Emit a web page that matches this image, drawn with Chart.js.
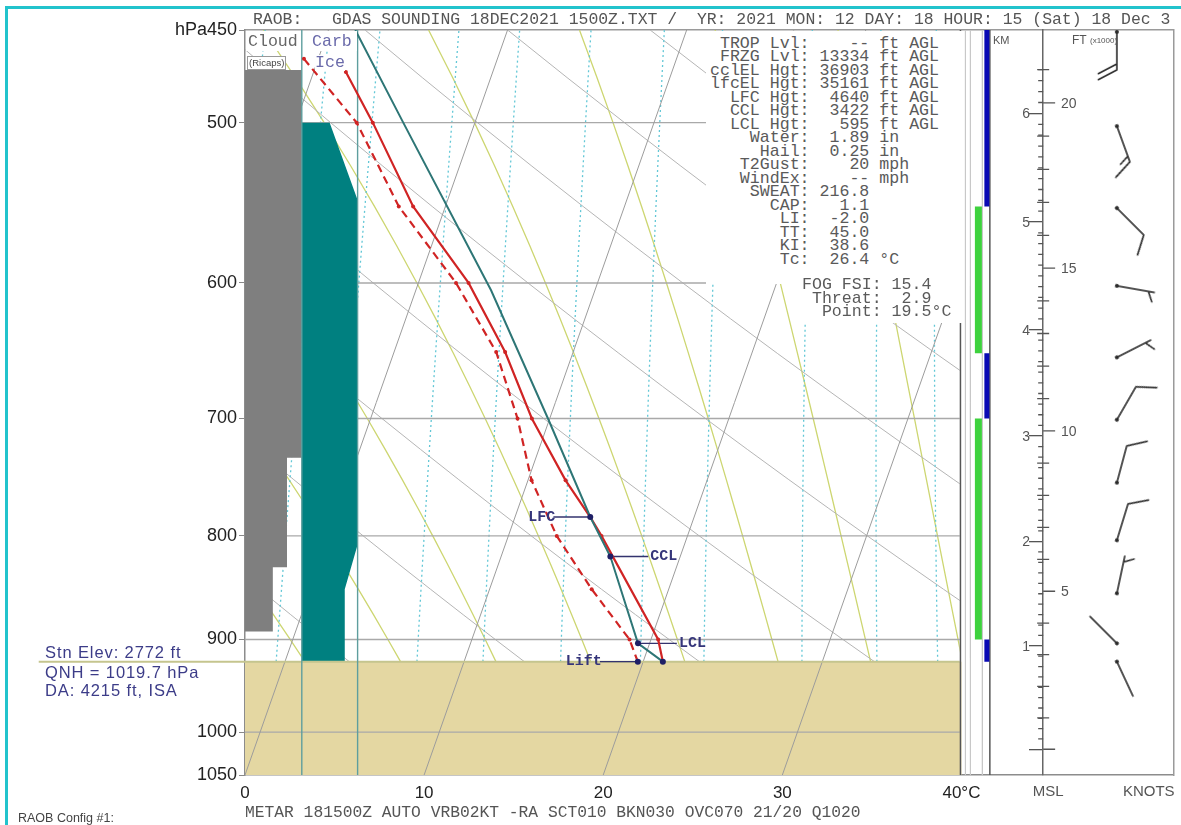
<!DOCTYPE html>
<html><head><meta charset="utf-8">
<script src="https://cdn.jsdelivr.net/npm/chart.js@4.4.1/dist/chart.umd.min.js"></script>
<style>
 body{margin:0;background:#fff;}
 #wrap{position:relative;width:1181px;height:825px;overflow:hidden;background:#fff;}
 #c{position:absolute;left:0;top:0;}
 .t{position:absolute;white-space:pre;margin:0;}
 .mono{font-family:"Liberation Mono","Courier New",monospace;}
 .sans{font-family:"Liberation Sans",Arial,sans-serif;}
</style></head>
<body><div id="wrap"><canvas id="c" width="1181" height="825"></canvas></div>
<script>
// ================= DATA =================
// Axis ticks
const pressureTicks = [450, 500, 600, 700, 800, 900, 1000, 1050];
const tempTicks = [0, 10, 20, 30, 40];
// Thermodynamic reference lines
const isobars = [500, 600, 700, 800, 900, 1000];
const isotherms = [-40, -30, -20, -10, 0, 10, 20, 30, 40];          // °C
const mixingRatios = [3, 4, 5, 7, 9, 12, 16, 20, 28, 36, 44];         // g/kg
const moistAdiabats = [-10, -5, 0, 5, 10, 15, 20, 25, 30, 35, 40];    // theta-w °C
const dryAdiabats = [10, 20, 30, 40, 50, 60, 70, 80, 90, 100];        // theta °C
const stationPressure = 923;
// Sounding (pressure hPa, °C)
const tempPressure = [472, 500, 550, 600, 649, 700, 751, 783, 800, 900, 923];
const temperature  = [-8.2, -5.7, -1.8, 2.8, 6.2, 9.0, 12.1, 14.2, 15.2, 20.4, 21.1];
const dewPressure  = [465, 500, 550, 600, 649, 700, 751, 800, 850, 900, 923];
const dewpoint     = [-10.8, -6.6, -2.6, 2.1, 5.7, 8.2, 10.2, 12.7, 15.7, 18.8, 19.7];
const parcelPressure = [923, 904, 819, 783, 700, 605, 500, 450];
const parcelTemp     = [21.1, 19.35, 16.1, 14.2, 9.9, 4.2, -4.0, -8.5];
// Parcel levels
const levelNames = ['LFC', 'CCL', 'LCL', 'Lift'];
const levelPressure = [783, 819, 904, 923];
const levelTemp = [14.2, 16.1, 19.35, 19.7];
// Cloud (Ricaps) coverage: boundaries and fraction of column
const cloudPressure = [471, 732, 829, 892];
const cloudCover = [1.0, 0.74, 0.49];
// Carb ice intensity (fraction of column) by pressure
const carbIcePressure = [500, 546, 808, 850, 923];
const carbIceLevel = [0.5, 1.0, 1.0, 0.77, 0.77];
// Side bars
const blueBars = [[450, 550], [650, 700], [900, 923]];
const greenBars = [[550, 650], [700, 900]];
// Winds
const windPressure = [451, 502, 551, 602, 653, 701, 753, 804, 854, 904, 923];
const windDir   = [180, 160, 135, 100, 63, 30, 15, 17, 12, 315, 155];
const windSpeed = [20, 15, 10, 5, 5, 10, 10, 10, 5, 2, 2];
// Height scale
const kmTicks = [0, 1, 2, 3, 4, 5, 6];
const ftMajor = [0, 5, 10, 15, 20];   // x1000 ft
const QNH = 1019.7;
// Texts
const headerText = 'RAOB:   GDAS SOUNDING 18DEC2021 1500Z.TXT /  YR: 2021 MON: 12 DAY: 18 HOUR: 15 (Sat) 18 Dec 3';
const statsLines = [
 ' TROP Lvl:    -- ft AGL',
 ' FRZG Lvl: 13334 ft AGL',
 'cclEL Hgt: 36903 ft AGL',
 'lfcEL Hgt: 35161 ft AGL',
 '  LFC Hgt:  4640 ft AGL',
 '  CCL Hgt:  3422 ft AGL',
 '  LCL Hgt:   595 ft AGL',
 '    Water:  1.89 in',
 '     Hail:  0.25 in',
 '   T2Gust:    20 mph',
 '   WindEx:    -- mph',
 '    SWEAT: 216.8',
 '      CAP:   1.1',
 '       LI:  -2.0',
 '       TT:  45.0',
 '       KI:  38.6',
 '       Tc:  26.4 °C'];
const fogLines = ['FOG FSI: 15.4', ' Threat:  2.9', '  Point: 19.5°C'];
const metarText = 'METAR 181500Z AUTO VRB02KT -RA SCT010 BKN030 OVC070 21/20 Q1020';
const stnLines = ['Stn Elev: 2772 ft', 'QNH = 1019.7 hPa', 'DA: 4215 ft, ISA'];

// ================= LAYOUT =================
const W = 1181, H = 825;
const PLOT_L = 245, PLOT_T = 30, PLOT_B = 775, PLOT_R = 1177;
const PXU = 17.975;                       // px per x unit
const X_MAX = (PLOT_R - PLOT_L) / PXU;
const SKEW = 17.3;                        // x-units per ln(p)
const sx = (t, p) => t + SKEW * Math.log(1050 / p);
const ux = px => (px - PLOT_L) / PXU;     // layout px -> x units
const X_H = ux(1046);                     // height axis
const X_BARB = ux(1120);
const CLOUD_W = ux(302);
const CARB_L = ux(302), CARB_W = ux(358) - ux(302);
const SANS = '"Liberation Sans", Arial, sans-serif';
const MONO = '"Liberation Mono", "Courier New", monospace';
Chart.defaults.font.family = SANS;

const skewClip = {left: 0, top: 0, right: -(PLOT_R - (PLOT_L + 40 * PXU)) - 1, bottom: 0};
const refLevels = [stationPressure];
for (let p = 900; p >= 450; p -= 25) refLevels.push(p);

const es = t => 6.112 * Math.exp(17.67 * t / (t + 243.5));
const tdFromE = e => { const a = Math.log(e / 6.112); return 243.5 * a / (17.67 - a); };

function lineDs(data, color, width, extra) {
  return Object.assign({data, borderColor: color, borderWidth: width, pointRadius: 0, fill: false, tension: 0}, extra || {});
}
const datasets = [];

// ground
datasets.push(lineDs([{x:0,y:stationPressure},{x:40,y:stationPressure},{x:40,y:1050},{x:0,y:1050}],
  'rgba(0,0,0,0)', 0, {fill: 'shape', backgroundColor: '#e4d7a2', order: 100}));
// isobars
isobars.forEach(p => datasets.push(lineDs([{x:0,y:p},{x:40,y:p}], '#a9a9a9', 1.4, {order: 88, clip: skewClip})));
// isotherms
isotherms.forEach(t => datasets.push(lineDs([{x:sx(t,1050),y:1050},{x:sx(t,450),y:450}], '#9c9c9c', 1, {order: 87, clip: skewClip})));
// mixing ratio lines
mixingRatios.forEach(w => {
  const pts = refLevels.map(p => { const e = w * p / (622 + w); return {x: sx(tdFromE(e), p), y: p}; });
  datasets.push(lineDs(pts, '#62c7d6', 1.3, {borderDash: [2, 3], order: 89, clip: skewClip}));
});
// dry adiabats
dryAdiabats.forEach(th => {
  const pts = refLevels.map(p => ({x: sx((th + 273.15) * Math.pow(p / 1000, 0.2857) - 273.15, p), y: p}));
  datasets.push(lineDs(pts, '#b5b5b5', 1, {order: 89, clip: skewClip}));
});
// moist adiabats (pseudo-adiabatic integration)
const keep = new Set(refLevels);
moistAdiabats.forEach(tw => {
  const Rd = 287.04, cp = 1005.7, Lv = 2.501e6, eps = 0.622;
  let T = tw + 273.15, p = 1000; const pts = [];
  while (p > 450) {
    const e = es(T - 273.15), r = eps * e / (p - e);
    const dTdp = (Rd * T + Lv * r) / (p * (cp + Lv * Lv * r * eps / (Rd * T * T)));
    T -= dTdp; p -= 1;
    if (keep.has(p)) pts.push({x: sx(T - 273.15, p), y: p});
  }
  datasets.push(lineDs(pts, '#cdd671', 1.3, {order: 89, clip: skewClip}));
});
// cloud column
(function(){
  const pts = [{x:0, y:cloudPressure[0]}];
  cloudCover.forEach((c, i) => { pts.push({x:c*CLOUD_W, y:cloudPressure[i]}); pts.push({x:c*CLOUD_W, y:cloudPressure[i+1]}); });
  pts.push({x:0, y:cloudPressure[cloudPressure.length-1]});
  datasets.push(lineDs(pts, 'rgba(0,0,0,0)', 0, {fill: 'shape', backgroundColor: '#7f7f7f', order: 80}));
})();
// carb ice column
(function(){
  const pts = [{x:CARB_L, y:carbIcePressure[0]}];
  carbIcePressure.forEach((p, i) => pts.push({x: CARB_L + carbIceLevel[i] * CARB_W, y: p}));
  pts.push({x:CARB_L, y:carbIcePressure[carbIcePressure.length-1]});
  datasets.push(lineDs(pts, 'rgba(0,0,0,0)', 0, {fill: 'shape', backgroundColor: '#008080', order: 80}));
})();
// column borders
[CARB_L, CARB_L + CARB_W].forEach(xv => datasets.push(lineDs([{x:xv,y:450},{x:xv,y:1050}], '#5e9e9e', 1.4, {order: 70})));
// station elevation line
datasets.push(lineDs([{x:ux(38),y:stationPressure},{x:40,y:stationPressure}], '#c5c58e', 2,
  {order: 70, clip: {left: 230, top: 0, right: skewClip.right, bottom: 0}}));
// side strip lines
[[ux(963),'#555',1.5],[ux(968),'#c8c8c8',1],[ux(973),'#c8c8c8',1],[ux(985),'#c8c8c8',1],[ux(992.5),'#555',1.5]]
  .forEach(s => datasets.push(lineDs([{x:s[0],y:450},{x:s[0],y:1050}], s[1], s[2], {order: 65})));
blueBars.forEach(b => datasets.push(lineDs([{x:ux(989.5),y:b[0]},{x:ux(989.5),y:b[1]}], '#0a0ab4', 5, {order: 60, borderCapStyle: 'butt'})));
greenBars.forEach(b => datasets.push(lineDs([{x:ux(981),y:b[0]},{x:ux(981),y:b[1]}], '#3ed23e', 7, {order: 60, borderCapStyle: 'butt'})));
// height scale helper (hypsometric with mean temperature)
const pAtKm = z => QNH * Math.exp(-9.81 * z * 1000 / (287 * (292 - 1.4 * z)));
const kmMinor = [], ftMinor = [], ftMaj = [];
for (let i = 1; i <= 64; i++) if (i % 10) kmMinor.push({x: X_H - 2.5 / PXU, y: pAtKm(i / 10)});
for (let f = 1; f <= 21; f++) if (f % 5) ftMinor.push({x: X_H, y: pAtKm(f * 0.3048)});
ftMajor.forEach(f => ftMaj.push({x: X_H + 6 / PXU, y: pAtKm(f * 0.3048)}));
const tickDs = (pts, r) => ({data: pts, showLine: false, pointStyle: 'line', pointRadius: r, pointBorderColor: '#555',
  pointBorderWidth: 1.3, borderColor: '#555', order: 60});
datasets.push(tickDs(kmMinor, 2.5), tickDs(ftMinor, 6), tickDs(ftMaj, 6));
// wind barbs
function makeBarb(speed) {
  const L = 38, F = 21, HF = 11, S = 6, size = 2 * (L + F) + 6;
  const c = document.createElement('canvas'); c.width = c.height = size;
  const g = c.getContext('2d'), cx = size / 2, cy = size / 2;
  g.strokeStyle = '#2a2a2a'; g.lineWidth = 1.6; g.lineCap = 'round';
  g.beginPath(); g.moveTo(cx, cy); g.lineTo(cx, cy - L);
  const n10 = Math.floor(speed / 10), n5 = Math.floor((speed % 10) / 5);
  let pos = 0;
  for (let i = 0; i < n10; i++) { const y = cy - L + pos; g.moveTo(cx, y); g.lineTo(cx + F * 0.885, y - F * 0.466); pos += S; }
  if (n5) { if (!n10) pos = S; const y = cy - L + pos; g.moveTo(cx, y); g.lineTo(cx + HF * 0.885, y - HF * 0.466); }
  g.stroke();
  g.fillStyle = '#2a2a2a'; g.beginPath(); g.arc(cx, cy, 2, 0, Math.PI * 2); g.fill();
  return c;
}
const barbImgs = windSpeed.map(makeBarb);
datasets.push({data: windPressure.map(p => ({x: X_BARB, y: p})), showLine: false, pointRadius: 4,
  pointStyle: c => barbImgs[c.dataIndex], pointRotation: c => windDir[c.dataIndex], order: 60});
// label connectors
const LABEL_OFF = [-37, 38, 39, -38];
levelNames.forEach((n, i) => {
  const x0 = sx(levelTemp[i], levelPressure[i]);
  datasets.push(lineDs([{x:x0,y:levelPressure[i]},{x:x0 + LABEL_OFF[i] / PXU,y:levelPressure[i]}], '#33336e', 1.4, {order: 50}));
});
// profiles
datasets.push(lineDs(dewPressure.map((p, i) => ({x: sx(dewpoint[i], p), y: p})), '#d02424', 2.2,
  {borderDash: [8, 5], pointRadius: 2, pointBackgroundColor: '#d02424', pointBorderWidth: 0, order: 40}));
datasets.push(lineDs(tempPressure.map((p, i) => ({x: sx(temperature[i], p), y: p})), '#d02424', 2.2,
  {pointRadius: 2, pointBackgroundColor: '#d02424', pointBorderWidth: 0, order: 39}));
datasets.push(lineDs(parcelPressure.map((p, i) => ({x: sx(parcelTemp[i], p), y: p})), '#2e7676', 2, {order: 38}));
// level dots
datasets.push({data: levelPressure.map((p, i) => ({x: sx(levelTemp[i], p), y: p}))
  .concat([{x: sx(parcelTemp[0], parcelPressure[0]), y: parcelPressure[0]}]),
  showLine: false, pointRadius: 3, pointBackgroundColor: '#1f1f66', pointBorderWidth: 0, order: 30});

const xTickVals = tempTicks.concat([ux(1051), ux(1152)]);
const xTickLabels = tempTicks.map((t, i) => i === tempTicks.length - 1 ? t + '°C' : String(t)).concat(['MSL', 'KNOTS']);

const labelPlugin = {
  id: 'levelLabels',
  afterDatasetsDraw(chart) {
    const {ctx, scales: {x, y}} = chart;
    ctx.save();
    ctx.font = 'bold 15px ' + MONO; ctx.fillStyle = '#35357a'; ctx.textBaseline = 'middle';
    levelNames.forEach((n, i) => {
      const px = x.getPixelForValue(sx(levelTemp[i], levelPressure[i])) + LABEL_OFF[i];
      const py = y.getPixelForValue(levelPressure[i]);
      if (LABEL_OFF[i] < 0) { ctx.textAlign = 'right'; ctx.fillText(n, px + 2, py); }
      else { ctx.textAlign = 'left'; ctx.fillText(n, px + 2, py); }
    });
    ctx.restore();
  }
};
const zeroPad = s => { s.paddingLeft = 0; s.paddingRight = 0; s.paddingTop = 0; s.paddingBottom = 0; };

const chart = new Chart(document.getElementById('c'), {
  type: 'line',
  data: {datasets},
  options: {
    responsive: false, animation: false, events: [],
    layout: {padding: 0},
    plugins: {legend: {display: false}, tooltip: {enabled: false}},
    elements: {point: {radius: 0}, line: {tension: 0}},
    scales: {
      x: {type: 'linear', position: 'bottom', min: 0, max: X_MAX,
        afterFit: s => { s.height = H - PLOT_B; zeroPad(s); },
        afterBuildTicks: s => { s.ticks = xTickVals.map(v => ({value: v})); },
        ticks: {autoSkip: false, maxRotation: 0, padding: 0, callback: (v, i) => xTickLabels[i],
          color: c => c.index >= 5 ? '#555' : '#222',
          font: c => ({size: c.index >= 5 ? 15 : 17, family: SANS, lineHeight: 1.2})},
        grid: {display: false}, border: {display: true, color: '#8c8c8c', width: 1.5}},
      xTop: {type: 'linear', position: 'top', min: 0, max: 1,
        afterFit: s => { s.height = PLOT_T; zeroPad(s); },
        ticks: {display: false}, grid: {display: false}, border: {display: true, color: '#9a9a9a', width: 1.5}},
      y: {type: 'logarithmic', position: 'left', min: 450, max: 1050, reverse: true,
        afterFit: s => { s.width = PLOT_L; zeroPad(s); },
        afterBuildTicks: s => { s.ticks = pressureTicks.map(v => ({value: v})); },
        ticks: {callback: (v, i) => (i === 0 ? 'hPa' : '') + pressureTicks[i], font: {size: 18, family: SANS}, color: '#222', padding: 2},
        grid: {display: true, drawOnChartArea: false, drawTicks: true, tickLength: 6, color: '#888'},
        border: {display: true, color: '#8c8c8c', width: 1.5}},
      yRight: {type: 'linear', position: 'right', min: 0, max: 1,
        afterFit: s => { s.width = W - PLOT_R; zeroPad(s); },
        ticks: {display: false}, grid: {display: false}, border: {display: true, color: '#9a9a9a', width: 1.5}},
      yKm: {type: 'logarithmic', position: {x: X_H}, min: 450, max: 1050, reverse: true,
        afterFit: s => zeroPad(s),
        afterBuildTicks: s => { s.ticks = kmTicks.map(z => ({value: pAtKm(z)})); },
        ticks: {display: false},
        grid: {display: true, drawOnChartArea: false, drawTicks: true, tickLength: 13, color: '#555', lineWidth: 1.3},
        border: {display: true, color: '#666', width: 1.5}}
    }
  },
  plugins: [labelPlugin]
});

// ================= HTML TEXT =================
const wrap = document.getElementById('wrap');
function addBox(l, t, w, h, css) {
  const d = document.createElement('div'); d.style.cssText = `position:absolute;left:${l}px;top:${t}px;width:${w}px;height:${h}px;` + (css || '');
  wrap.appendChild(d); return d;
}
function addText(txt, l, yc, cls, size, lh, color, css) {
  const d = document.createElement('pre'); d.className = 't ' + cls; d.textContent = txt;
  d.style.cssText += `left:${l}px;top:${yc - lh / 2}px;font-size:${size}px;line-height:${lh}px;color:${color};` + (css || '');
  wrap.appendChild(d); return d;
}
// frame
addBox(5, 6, 2.5, H - 6, 'background:#22c3cc;');
addBox(5, 6, W - 5, 2.5, 'background:#22c3cc;');
// header
addText(headerText, 253, 20, 'mono', 16.45, 16, '#555');
// stats boxes
addBox(706, 31, 256, 253, 'background:#fff;');
addBox(797, 276, 165, 47, 'background:#fff;');
addText(statsLines.join('\n'), 710, 43.3, 'mono', 16.6, 13.5, '#5a5a5a');
addText(fogLines.join('\n'), 802, 285, 'mono', 16.6, 13.2, '#5a5a5a');
// column labels
addBox(246, 31, 55, 20, 'background:#fff;');
addBox(303, 31, 54, 20, 'background:#fff;');
addText('Cloud', 248, 42, 'mono', 16.6, 16, '#666');
addText('Carb', 312, 42, 'mono', 16.6, 16, '#6a6aaa');
addText('Ice', 315, 63, 'mono', 16.6, 16, '#6a6aaa', 'background:#fff;');
addText('(Ricaps)', 247, 62, 'sans', 9.5, 12, '#444', 'border:1px solid #999;background:#fff;padding:0 1px;');
// station info
stnLines.forEach((s, i) => addText(s, 45, [652, 672, 690][i], 'sans', 16.5, 18, '#3c3c88', 'letter-spacing:0.9px;'));
addText('RAOB Config #1:', 18, 818, 'sans', 12.5, 14, '#444');
addText(metarText, 245, 813, 'mono', 16.3, 16, '#555');
// height axis titles
addText('KM', 993, 40, 'sans', 11, 12, '#555');
addText('FT', 1072, 40, 'sans', 12, 14, '#555');
addText('(x1000)', 1090, 41, 'sans', 8, 10, '#555');
// km labels (right-aligned left of the height axis)
kmTicks.forEach(z => { if (!z) return;
  const py = chart.scales.y.getPixelForValue(pAtKm(z));
  addText(String(z), 0, py, 'sans', 14, 16, '#555', `left:auto;right:${W - 1030}px;text-align:right;`);
});
// ft labels
ftMajor.forEach(f => { if (!f) return;
  const py = chart.scales.y.getPixelForValue(pAtKm(f * 0.3048));
  addText(String(f), 1061, py, 'sans', 14, 16, '#555');
});
</script></body></html>
